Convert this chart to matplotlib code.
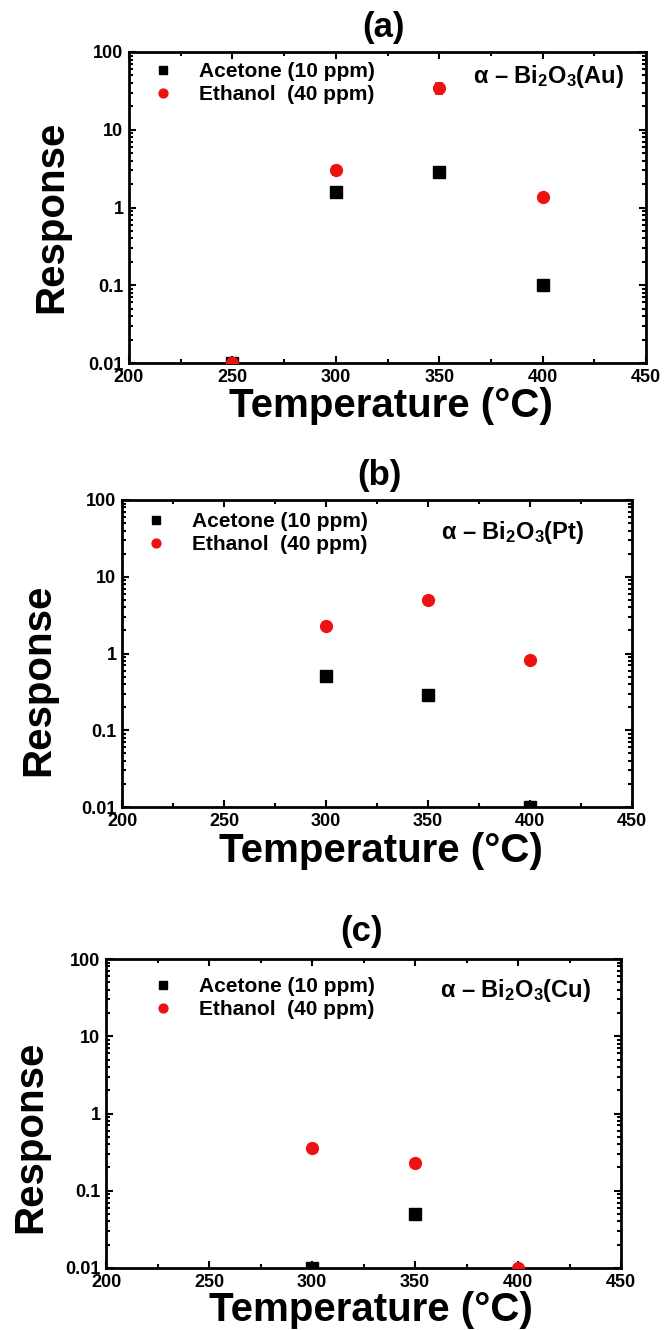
import numpy as np
import matplotlib
matplotlib.use("Agg")
import matplotlib.pyplot as plt
from matplotlib.ticker import LogLocator, MultipleLocator, FixedLocator, FixedFormatter

plt.rcParams['font.family'] = ['Liberation Sans', 'DejaVu Sans']
plt.rcParams['font.weight'] = 'bold'
plt.rcParams['mathtext.fontset'] = 'custom'
plt.rcParams['mathtext.rm'] = 'Liberation Sans:bold'
plt.rcParams['mathtext.bf'] = 'Liberation Sans:bold'
plt.rcParams['mathtext.it'] = 'Liberation Sans:bold'

# Operating temperatures (°C)
temperature = [250, 300, 350, 400]

# Panel (a): alpha-Bi2O3 decorated with Au
acetone_au = [0.01, 1.6, 2.9, 0.10]
acetone_au_err = [0.0, 0.15, 0.3, 0.008]
ethanol_au = [0.01, 3.0, 34.5, 1.35]
ethanol_au_err = [0.0, 0.4, 6.0, 0.15]

# Panel (b): alpha-Bi2O3 decorated with Pt
acetone_pt = [np.nan, 0.51, 0.29, 0.01]
acetone_pt_err = [0.0, 0.06, 0.03, 0.0]
ethanol_pt = [np.nan, 2.3, 5.0, 0.83]
ethanol_pt_err = [0.0, 0.25, 0.4, 0.06]

# Panel (c): alpha-Bi2O3 decorated with Cu
acetone_cu = [np.nan, 0.01, 0.05, np.nan]
acetone_cu_err = [0.0, 0.0, 0.003, 0.0]
ethanol_cu = [np.nan, 0.36, 0.23, 0.01]
ethanol_cu_err = [0.0, 0.03, 0.02, 0.0]

panel_titles = ['(a)', '(b)', '(c)']
sample_labels = [r'α – Bi$_2$O$_3$(Au)', r'α – Bi$_2$O$_3$(Pt)', r'α – Bi$_2$O$_3$(Cu)']
series_labels = ['Acetone (10 ppm)', 'Ethanol  (40 ppm)']
x_ticks = [200, 250, 300, 350, 400, 450]
y_ticks = [0.01, 0.1, 1, 10, 100]
y_tick_labels = ['0.01', '0.1', '1', '10', '100']

W, H = 665, 1330
fig = plt.figure(figsize=(W / 100, H / 100), dpi=100)


def px_axes(left, right, top, bottom):
    return fig.add_axes([left / W, 1 - bottom / H, (right - left) / W, (bottom - top) / H])


panels = [
    dict(box=(129, 646, 52, 363), ace=(acetone_au, acetone_au_err), eth=(ethanol_au, ethanol_au_err),
         title_xy=(384, 28), leg=(153, 62), note=(473, 77), ylab=(51, 217), xlab=(391, 417)),
    dict(box=(122, 632, 500, 807), ace=(acetone_pt, acetone_pt_err), eth=(ethanol_pt, ethanol_pt_err),
         title_xy=(379, 475), leg=(146, 512), note=(441, 532), ylab=(38, 680), xlab=(381, 862)),
    dict(box=(106, 621, 959, 1268), ace=(acetone_cu, acetone_cu_err), eth=(ethanol_cu, ethanol_cu_err),
         title_xy=(362, 932), leg=(153, 977), note=(440, 990), ylab=(30, 1137), xlab=(371, 1321)),
]

for i, p in enumerate(panels):
    left, right, top, bottom = p['box']
    ax = px_axes(left, right, top, bottom)
    aw, ah = right - left, bottom - top

    ace, ace_err = p['ace']
    eth, eth_err = p['eth']
    ax.errorbar(temperature, ace, yerr=ace_err, fmt='s', color='black', ms=8.5,
                elinewidth=1.2, capsize=3, capthick=1.2, label=series_labels[0], zorder=3)
    ax.errorbar(temperature, eth, yerr=eth_err, fmt='o', color='#ee1111', ms=8.5,
                elinewidth=1.2, capsize=3, capthick=1.2, label=series_labels[1], zorder=4)

    ax.set_yscale('log')
    ax.set_xlim(200, 450)
    ax.set_ylim(0.01, 100)
    ax.xaxis.set_major_locator(FixedLocator(x_ticks))
    ax.xaxis.set_minor_locator(MultipleLocator(25))
    ax.yaxis.set_major_locator(FixedLocator(y_ticks))
    ax.yaxis.set_major_formatter(FixedFormatter(y_tick_labels))
    ax.yaxis.set_minor_locator(LogLocator(base=10, subs=np.arange(2, 10)))
    ax.yaxis.set_minor_formatter(plt.NullFormatter())

    ax.tick_params(which='both', direction='in', top=True, right=True, width=1.5)
    ax.tick_params(which='major', length=5, labelsize=13, pad=4)
    ax.tick_params(which='minor', length=3)
    for lab in ax.get_xticklabels() + ax.get_yticklabels():
        lab.set_fontweight('bold')
    for s in ax.spines.values():
        s.set_linewidth(2)

    ax.set_xlabel('Temperature (°C)', fontsize=29, fontweight='bold', va='baseline')
    ax.xaxis.set_label_coords((p['xlab'][0] - left) / aw, 1 - (p['xlab'][1] - top) / ah)
    ax.set_ylabel('Response', fontsize=29, fontweight='bold', va='center')
    ax.yaxis.set_label_coords((p['ylab'][0] - left) / aw, 1 - (p['ylab'][1] - top) / ah)

    handles, labels = ax.get_legend_handles_labels()
    handles = [h[0] for h in handles]
    ax.legend(handles, labels, loc='upper left', frameon=False,
              bbox_to_anchor=((p['leg'][0] - left) / aw, 1 - (p['leg'][1] - top) / ah),
              borderaxespad=0, borderpad=0, handlelength=1.0, handletextpad=1.2,
              labelspacing=0.2, markerscale=0.75, prop=dict(size=15, weight='bold'))

    ax.text((p['note'][0] - left) / aw, 1 - (p['note'][1] - top) / ah, sample_labels[i],
            transform=ax.transAxes, ha='left', va='center', fontsize=17, fontweight='bold')

    fig.text(p['title_xy'][0] / W, 1 - p['title_xy'][1] / H, panel_titles[i],
             ha='center', va='center', fontsize=25, fontweight='bold')

fig.savefig('out.png', dpi=100)
